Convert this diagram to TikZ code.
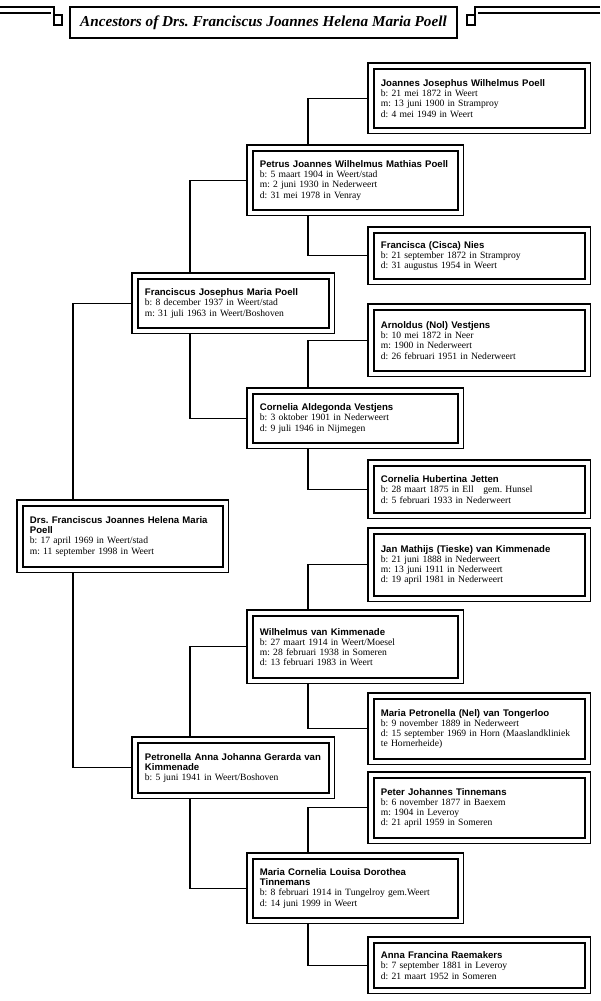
\documentclass[tikz,border=0pt]{standalone}
\usepackage{fontspec}
\setmainfont{Liberation Serif}
\newfontfamily\namefont{Liberation Sans}
\usetikzlibrary{backgrounds}
\pgfdeclarelayer{back}
\pgfdeclarelayer{bg}
\pgfdeclarelayer{frame}
\pgfsetlayers{back,bg,frame,main}
\newcommand\nm[1]{{\namefont\bfseries #1}}
\tikzset{
  person/.style={draw, fill=white, line width=1.8pt, anchor=north west, align=left,
    inner xsep=7pt, inner ysep=0pt, font=\fontsize{9.6}{10.2}\selectfont},
  rcol/.style={person, text width=197pt, minimum width=211pt, minimum height=#1},
  mcol/.style={person, text width=191pt, minimum width=205pt, minimum height=#1},
  gtwo/.style={person, text width=177pt, minimum width=191pt, minimum height=#1},
  gone/.style={person, text width=186pt, minimum width=200pt, minimum height=#1},
  outerframe/.style={draw, fill=white, line width=1.2pt},
  link/.style={draw, line width=1.1pt},
  deco/.style={draw, line width=1.2pt},
}
\begin{document}
\frenchspacing
\begin{tikzpicture}[x=1pt, y=-1pt]
\begin{pgfonlayer}{back}
\fill[white] (0,0) rectangle (600,1001);
\end{pgfonlayer}
\useasboundingbox (0,0) rectangle (600,1001);

% title
\node[draw, line width=1.8pt, minimum width=387pt, minimum height=31pt, inner sep=0pt,
  font=\fontsize{15.2}{17}\selectfont\bfseries\itshape] (title) at (263.5,22.5)
  {Ancestors of Drs. Franciscus Joannes Helena Maria Poell};
\draw[deco] (0,7) -- (54,7) -- (54,15);
\draw[deco] (0,13) -- (51,13);
\draw[deco] (54,15) rectangle (62,25);
\draw[deco] (600,7) -- (475,7) -- (475,15);
\draw[deco] (600,13) -- (478,13);
\draw[deco] (467,15) rectangle (475,25);

% persons
\node[rcol=59] (J1) at (373,68) {\nm{Joannes Josephus Wilhelmus Poell}\\b: 21 mei 1872 in Weert\\m: 13 juni 1900 in Stramproy\\d: 4 mei 1949 in Weert};
\node[mcol=59] (P) at (252,150) {\nm{Petrus Joannes Wilhelmus Mathias Poell}\\b: 5 maart 1904 in Weert/stad\\m: 2 juni 1930 in Nederweert\\d: 31 mei 1978 in Venray};
\node[rcol=46] (F) at (373,232) {\nm{Francisca (Cisca) Nies}\\b: 21 september 1872 in Stramproy\\d: 31 augustus 1954 in Weert};
\node[gtwo=49] (FJ) at (137,278) {\nm{Franciscus Josephus Maria Poell}\\b: 8 december 1937 in Weert/stad\\m: 31 juli 1963 in Weert/Boshoven};
\node[rcol=61] (A) at (373,309) {\nm{Arnoldus (Nol) Vestjens}\\b: 10 mei 1872 in Neer\\m: 1900 in Nederweert\\d: 26 februari 1951 in Nederweert};
\node[mcol=49] (CA) at (252,393) {\nm{Cornelia Aldegonda Vestjens}\\b: 3 oktober 1901 in Nederweert\\d: 9 juli 1946 in Nijmegen};
\node[rcol=47] (CH) at (373,465) {\nm{Cornelia Hubertina Jetten}\\b: 28 maart 1875 in Ell\ \ \ gem. Hunsel\\d: 5 februari 1933 in Nederweert};
\node[gone=61] (D) at (22,505) {\nm{Drs. Franciscus Joannes Helena Maria}\\\nm{Poell}\\b: 17 april 1969 in Weert/stad\\m: 11 september 1998 in Weert};
\node[rcol=62] (JM) at (373,533) {\nm{Jan Mathijs (Tieske) van Kimmenade}\\b: 21 juni 1888 in Nederweert\\m: 13 juni 1911 in Nederweert\\d: 19 april 1981 in Nederweert};
\node[mcol=62] (W) at (252,615) {\nm{Wilhelmus van Kimmenade}\\b: 27 maart 1914 in Weert/Moesel\\m: 28 februari 1938 in Someren\\d: 13 februari 1983 in Weert};
\node[rcol=60] (MP) at (373,698) {\nm{Maria Petronella (Nel) van Tongerloo}\\b: 9 november 1889 in Nederweert\\d: 15 september 1969 in Horn (Maaslandkliniek\\te Hornerheide)};
\node[gtwo=50] (PA) at (137,742) {\nm{Petronella Anna Johanna Gerarda van}\\\nm{Kimmenade}\\b: 5 juni 1941 in Weert/Boshoven};
\node[rcol=60] (PT) at (373,777) {\nm{Peter Johannes Tinnemans}\\b: 6 november 1877 in Baexem\\m: 1904 in Leveroy\\d: 21 april 1959 in Someren};
\node[mcol=59] (MC) at (252,858) {\nm{Maria Cornelia Louisa Dorothea}\\\nm{Tinnemans}\\b: 8 februari 1914 in Tungelroy gem.Weert\\d: 14 juni 1999 in Weert};
\node[rcol=45] (AF) at (373,942) {\nm{Anna Francina Raemakers}\\b: 7 september 1881 in Leveroy\\d: 21 maart 1952 in Someren};

% outer frames
\begin{pgfonlayer}{frame}
\foreach \n in {J1,P,F,FJ,A,CA,CH,D,JM,W,MP,PA,PT,MC,AF}
  \draw[outerframe] ([shift={(-5pt,5pt)}]\n.north west) rectangle ([shift={(5pt,-5pt)}]\n.south east);
\end{pgfonlayer}

% connectors
\begin{pgfonlayer}{bg}
\draw[link] (FJ.west) -| ([xshift=51pt]D.north west);
\draw[link] (PA.west) -| ([xshift=51pt]D.south west);
\draw[link] (P.west) -| ([xshift=53pt]FJ.north west);
\draw[link] (CA.west) -| ([xshift=53pt]FJ.south west);
\draw[link] (W.west) -| ([xshift=53pt]PA.north west);
\draw[link] (MC.west) -| ([xshift=53pt]PA.south west);
\draw[link] (J1.west) -| ([xshift=56pt]P.north west);
\draw[link] (F.west) -| ([xshift=56pt]P.south west);
\draw[link] (A.west) -| ([xshift=56pt]CA.north west);
\draw[link] (CH.west) -| ([xshift=56pt]CA.south west);
\draw[link] (JM.west) -| ([xshift=56pt]W.north west);
\draw[link] (MP.west) -| ([xshift=56pt]W.south west);
\draw[link] (PT.west) -| ([xshift=56pt]MC.north west);
\draw[link] (AF.west) -| ([xshift=56pt]MC.south west);
\end{pgfonlayer}
\end{tikzpicture}
\end{document}
